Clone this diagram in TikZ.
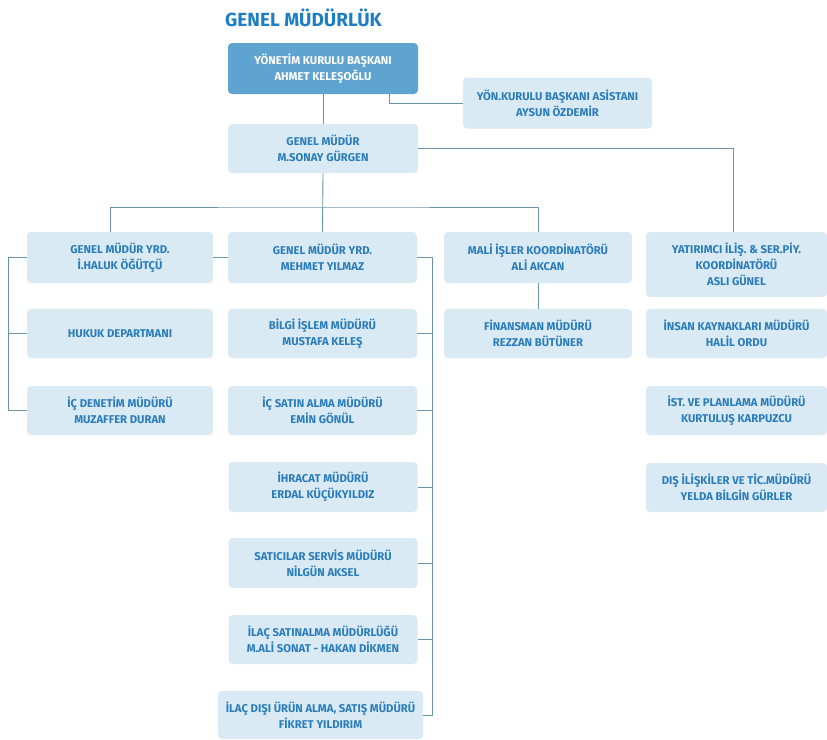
\documentclass[tikz,border=0pt]{standalone}
\usepackage{fontspec}
\setmainfont{Fira Sans}
\usetikzlibrary{calc}
\definecolor{boxfill}{HTML}{DAEAF5}
\definecolor{darkfill}{HTML}{5FA3D0}
\definecolor{txtblue}{HTML}{2A7DBA}
\definecolor{linec}{HTML}{6A95A8}
\definecolor{titleblue}{HTML}{1E7EC4}
\tikzset{
  bx/.style={fill=boxfill, rounded corners=4pt, inner sep=0pt, align=center,
    text=txtblue, font={\fontsize{11.3}{15.8}\selectfont\bfseries}},
  dbx/.style={bx, fill=darkfill, text=white},
  conn/.style={draw=linec, line width=0.9pt},
}
\begin{document}
\begin{tikzpicture}[x=1pt,y=-1pt]
\useasboundingbox (0,0) rectangle (827,739);
\node[font={\fontsize{19}{21}\selectfont\bfseries}, text=titleblue, anchor=west, inner sep=0pt] (title) at (225,18) {GENEL MÜDÜRLÜK};

\node[dbx, minimum width=190pt, minimum height=51pt] (yk) at (323,68.5) {YÖNETİM KURULU BAŞKANI\\AHMET KELEŞOĞLU};
\node[bx, minimum width=189pt, minimum height=51pt] (asis) at (557.5,103) {YÖN.KURULU BAŞKANI ASİSTANI\\AYSUN ÖZDEMİR};
\node[bx, minimum width=190pt, minimum height=49pt] (gm) at (323,148.5) {GENEL MÜDÜR\\M.SONAY GÜRGEN};

\node[bx, minimum width=186pt, minimum height=51pt] (haluk) at (120,257.5) {GENEL MÜDÜR YRD.\\İ.HALUK ÖĞÜTÇÜ};
\node[bx, minimum width=189pt, minimum height=51pt] (mehmet) at (322.5,257.5) {GENEL MÜDÜR YRD.\\MEHMET YILMAZ};
\node[bx, minimum width=188pt, minimum height=51pt] (mali) at (538,257.5) {MALİ İŞLER KOORDİNATÖRÜ\\ALİ AKCAN};
\node[bx, minimum width=181pt, minimum height=65pt] (yat) at (736.5,264.5) {YATIRIMCI İLİŞ. \& SER.PİY.\\KOORDİNATÖRÜ\\ASLI GÜNEL};

\node[bx, minimum width=186pt, minimum height=49pt] (hukuk) at (120,333.5) {HUKUK DEPARTMANI};
\node[bx, minimum width=189pt, minimum height=49pt] (bilgi) at (322.5,333.5) {BİLGİ İŞLEM MÜDÜRÜ\\MUSTAFA KELEŞ};
\node[bx, minimum width=188pt, minimum height=49pt] (fin) at (538,333.5) {FİNANSMAN MÜDÜRÜ\\REZZAN BÜTÜNER};
\node[bx, minimum width=181pt, minimum height=49pt] (ik) at (736.5,333.5) {İNSAN KAYNAKLARI MÜDÜRÜ\\HALİL ORDU};

\node[bx, minimum width=186pt, minimum height=49pt] (icden) at (120,410.5) {İÇ DENETİM MÜDÜRÜ\\MUZAFFER DURAN};
\node[bx, minimum width=189pt, minimum height=49pt] (icsat) at (322.5,410.5) {İÇ SATIN ALMA MÜDÜRÜ\\EMİN GÖNÜL};
\node[bx, minimum width=181pt, minimum height=49pt] (ist) at (736.5,410.5) {İST. VE PLANLAMA MÜDÜRÜ\\KURTULUŞ KARPUZCU};

\node[bx, minimum width=189pt, minimum height=50pt] (ihr) at (323,487) {İHRACAT MÜDÜRÜ\\ERDAL KÜÇÜKYILDIZ};
\node[bx, minimum width=181pt, minimum height=49pt] (dis) at (736.5,487.5) {DIŞ İLİŞKİLER VE TİC.MÜDÜRÜ\\YELDA BİLGİN GÜRLER};

\node[bx, minimum width=189pt, minimum height=50pt] (sat) at (323,563) {SATICILAR SERVİS MÜDÜRÜ\\NİLGÜN AKSEL};
\node[bx, minimum width=189pt, minimum height=49pt] (ilac) at (323,639.5) {İLAÇ SATINALMA MÜDÜRLÜĞÜ\\M.ALİ SONAT - HAKAN DİKMEN};
\node[bx, minimum width=205pt, minimum height=48pt] (ilacd) at (320.5,715) {İLAÇ DIŞI ÜRÜN ALMA, SATIŞ MÜDÜRÜ\\FİKRET YILDIRIM};

\coordinate (bus) at (323,207);
\coordinate (lb) at (8,0);
\coordinate (rb) at (432,0);

% top connectors
\draw[conn] ([xshift=66pt]yk.south) |- (asis.west);
\draw[conn] (yk) -- (gm);
\draw[conn] (gm.east) -| ([xshift=-3pt]yat.north);
\draw[conn] (gm.south) -- (mehmet.north);
\draw[conn] ([xshift=-10pt]haluk.north) |- (bus) -| (mali.north);
\draw[conn] (mali) -- (fin);

% left bracket
\draw[conn] (haluk.west) -- (haluk.west -| lb) -- (icden.west -| lb) -- (icden.west);
\draw[conn] (hukuk.west -| lb) -- (hukuk.west);
\draw[conn] (haluk) -- (mehmet);

% right bracket
\draw[conn] (mehmet.east) -- (mehmet.east -| rb) -- (ilacd.east -| rb) -- (ilacd.east);
\foreach \n in {bilgi,icsat,ihr,sat,ilac}{
  \draw[conn] (\n.east) -- (\n.east -| rb);
}
\end{tikzpicture}
\end{document}
